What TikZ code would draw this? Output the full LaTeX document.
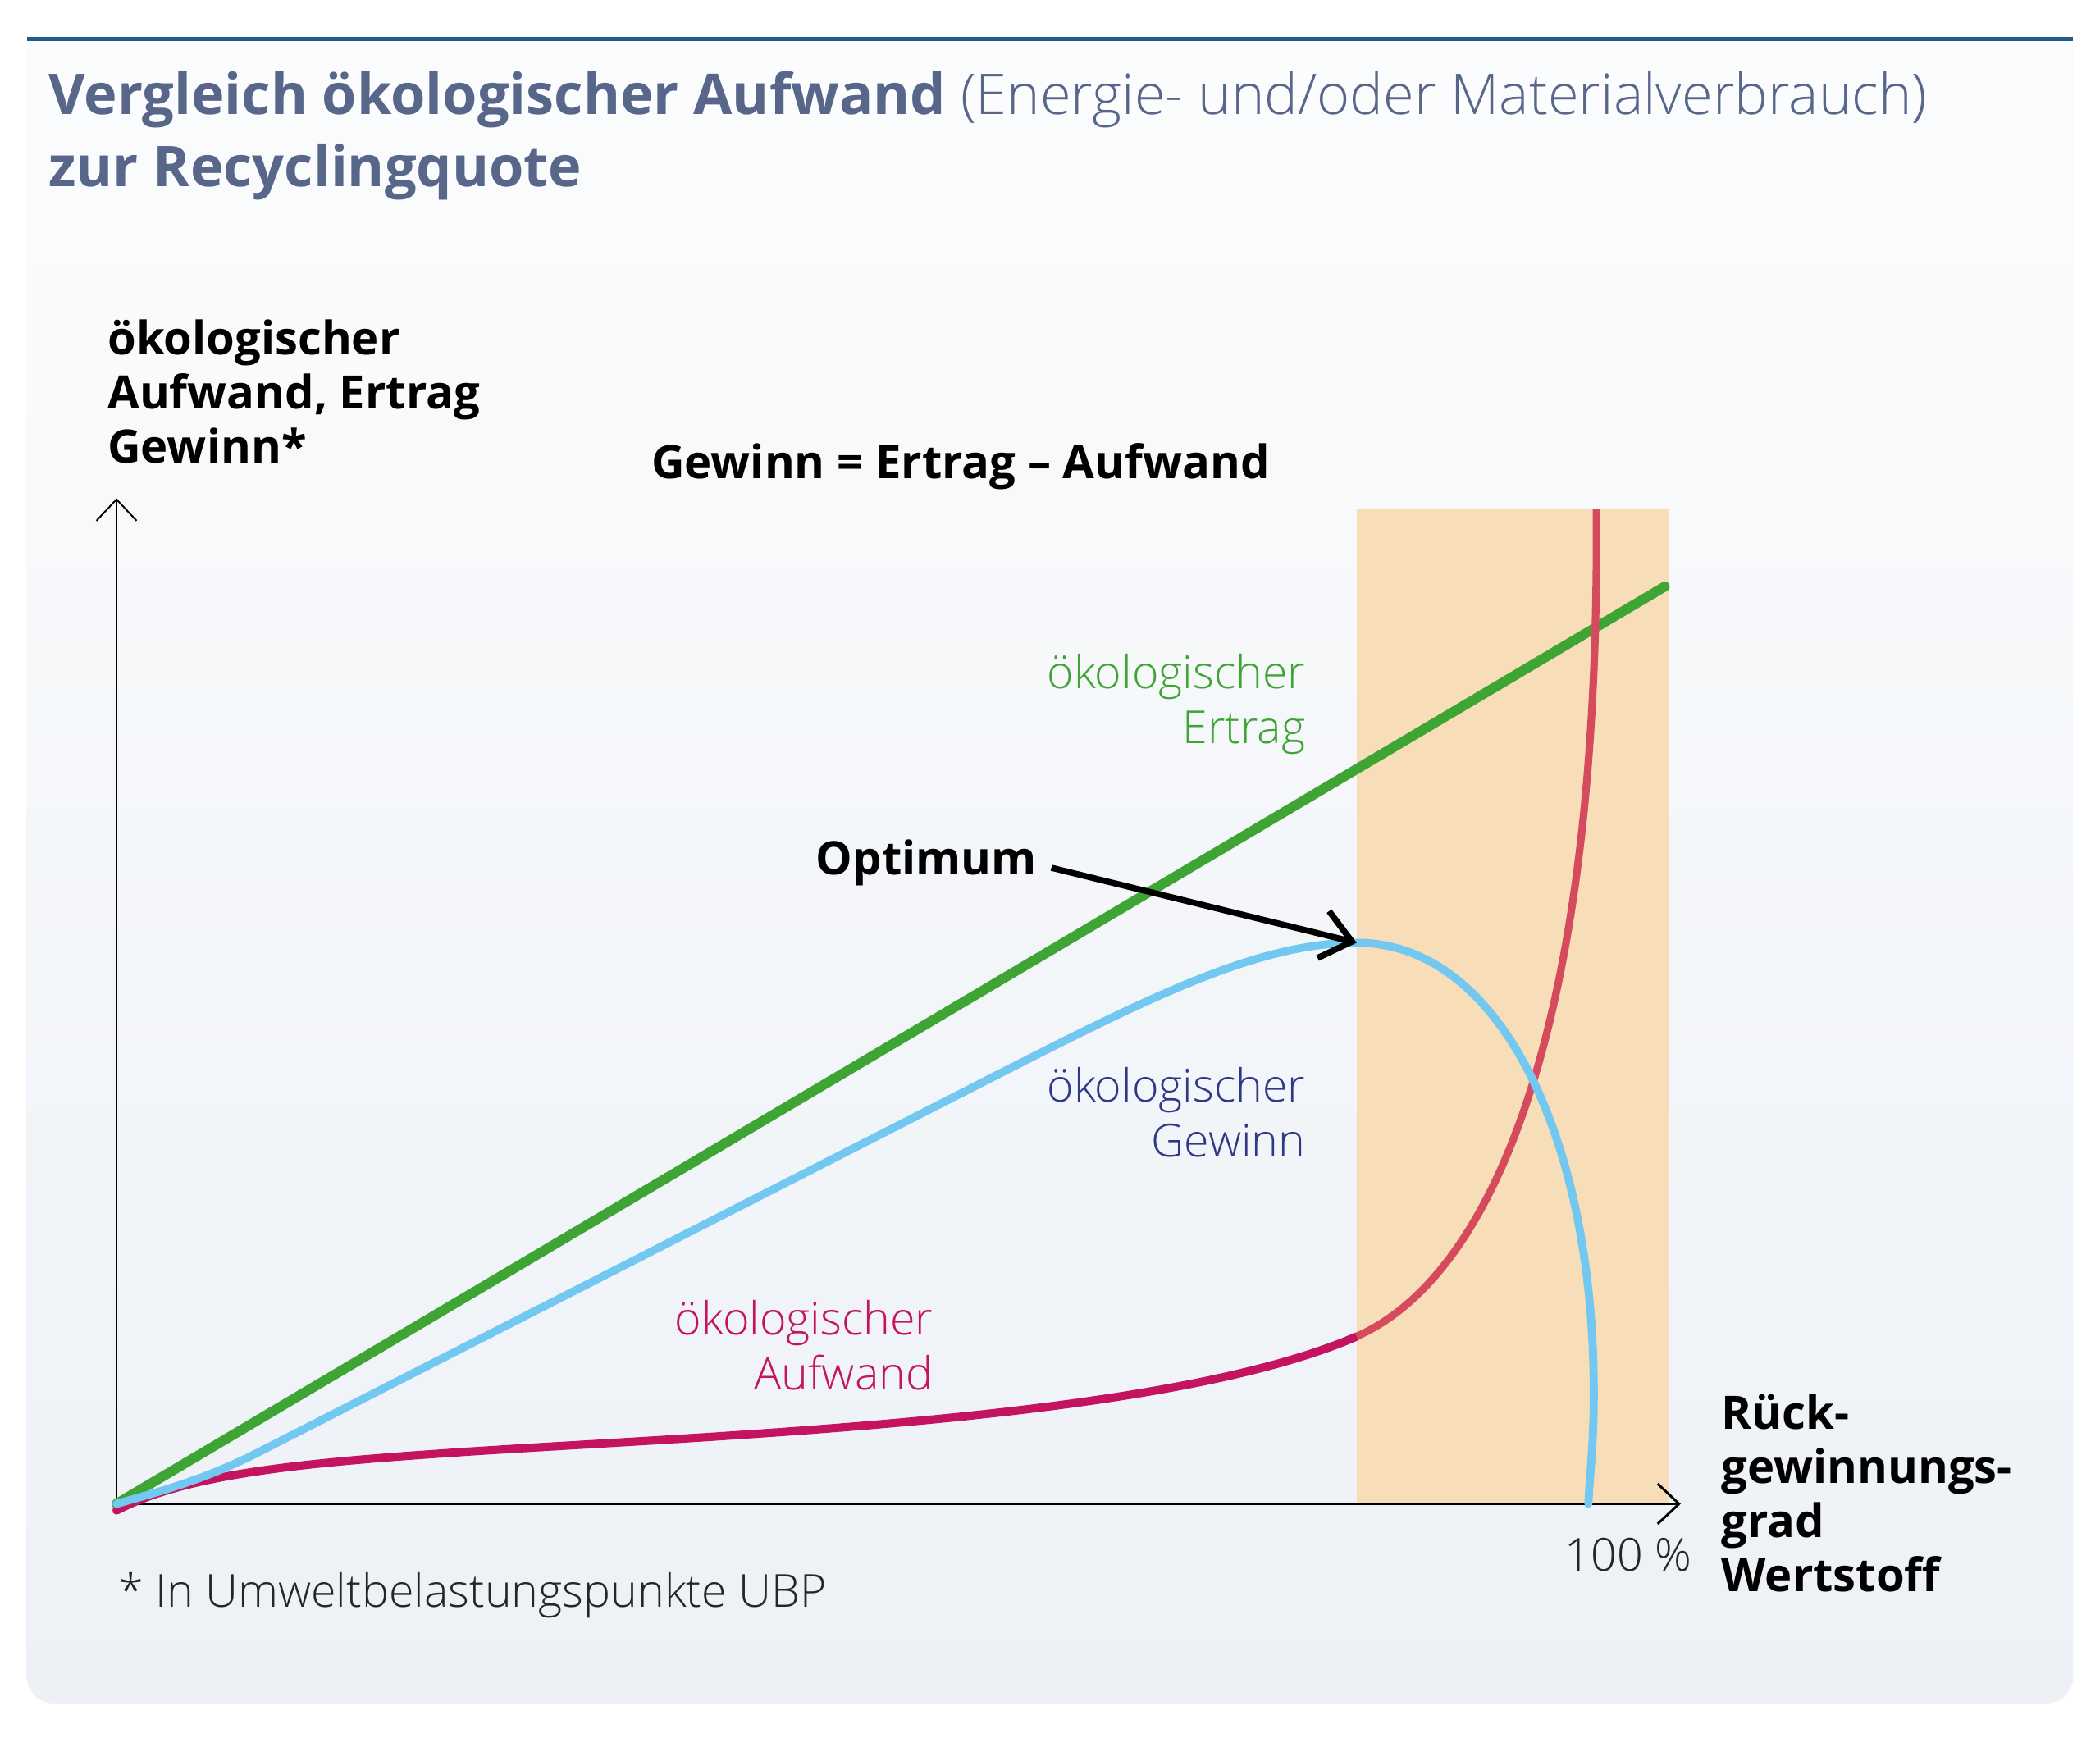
\documentclass[tikz,border=0pt]{standalone}
\usepackage{fontspec}
\setmainfont{Open Sans}
\IfFontExistsTF{Open Sans Light}{\newfontfamily\lightfont{Open Sans Light}}{\newfontfamily\lightfont{Open Sans}}
\usetikzlibrary{arrows.meta}
\definecolor{rulecol}{RGB}{31,92,142}
\definecolor{titlecol}{RGB}{88,102,138}
\definecolor{paneltop}{RGB}{251,252,253}
\definecolor{panelbot}{RGB}{237,241,246}
\definecolor{bandcol}{RGB}{247,222,184}
\definecolor{ertragcol}{RGB}{62,165,53}
\definecolor{gewinncol}{RGB}{114,200,240}
\definecolor{gewinntext}{RGB}{46,56,135}
\definecolor{aufwandcol}{RGB}{197,20,95}
\definecolor{aufwandhi}{RGB}{213,75,93}
\begin{document}
\begin{tikzpicture}[x=0.5pt,y=-0.5pt,
  titlefont/.style={font=\fontsize{21}{27}\selectfont, text=titlecol, inner sep=0pt},
  boldlabel/.style={font=\fontsize{17.2}{20.25}\selectfont\bfseries, text=black, inner sep=0pt, align=left},
  thinlabel/.style={font=\fontsize{17}{20.5}\selectfont\lightfont, inner sep=0pt},
  axisline/.style={line width=0.6pt, draw=black, -{Straight Barb[length=8pt,width=15pt]}},
  curve/.style={line cap=round, line join=round}]
\useasboundingbox (0,0) rectangle (1568,1297.3);
\fill[white] (0,0) rectangle (1568,1297.3);
% panel
\shade[top color=paneltop, bottom color=panelbot]
  (20,31) -- (1548,31) [rounded corners=10pt] -- (1548,1272) -- (20,1272) [sharp corners] -- (20,31) -- cycle;
\draw[rulecol, line width=1.5pt] (20,29) -- (1548,29);
% title
\node[titlefont, anchor=base west] (title1) at (36,85.5)
  {\textbf{Vergleich ökologischer Aufwand} {\lightfont (Energie- und/oder Materialverbrauch)}};
\node[titlefont, anchor=base west] (title2) at (36,139.4) {\textbf{zur Recyclingquote}};
% axis label (anchor base = last line)
\node[boldlabel, anchor=base west] (ylabel) at (80,345.7) {ökologischer\\Aufwand, Ertrag\\Gewinn*};
\node[boldlabel, anchor=base west] (formula) at (486,357.4) {Gewinn = Ertrag – Aufwand};
% band
\fill[bandcol] (1013,380) rectangle (1246,1123);
% axes
\coordinate (O) at (87,1123);
\coordinate (ytop) at (87,372);
\coordinate (xend) at (1255,1123);
\draw[axisline] (O) -- (ytop);
\draw[axisline, line width=0.9pt] (O) -- (xend);
% Ertrag
\coordinate (ertragend) at (1243,438);
\draw[curve, ertragcol, line width=3.7pt] (O) -- (ertragend);
% Aufwand
\coordinate (aufstart) at (87,1128);
\coordinate (aufmid) at (1013,998);
\coordinate (auftop) at (1192,380);
\draw[curve, aufwandcol, line width=3.1pt] (aufstart) .. controls (140,1100) and (230,1092) .. (350,1084)
  .. controls (550,1071) and (870,1060) .. (aufmid);
\draw[aufwandhi, line width=2.8pt] (aufmid) .. controls (1110,955) and (1195,780) .. (auftop);
% Gewinn
\coordinate (opt) at (1013,704);
\coordinate (gewend) at (1186,1123);
\draw[curve, gewinncol, line width=3pt] (O) .. controls (115,1115) and (150,1106) .. (190,1086)
  -- (740,805) .. controls (860,743.7) and (940,704) .. (opt)
  .. controls (1120,704) and (1190,850) .. (1190,1040)
  .. controls (1190,1080) and (1187,1100) .. (gewend);
% labels (anchor base = last line)
\node[thinlabel, text=ertragcol, anchor=base east, align=right] (lertrag) at (975,555) {ökologischer\\Ertrag};
\node[thinlabel, text=gewinntext, anchor=base east, align=right] (lgewinn) at (975,864) {ökologischer\\Gewinn};
\node[thinlabel, text=aufwandcol, anchor=base east, align=right] (laufwand) at (697,1038) {ökologischer\\Aufwand};
\node[boldlabel, anchor=base west] (optimum) at (609,653.4) {Optimum};
\coordinate (arrstart) at (785,648);
\draw[line width=2.3pt, -{Straight Barb[length=11pt,width=18pt]}] (arrstart) -- (opt);
\node[thinlabel, text=black!85, anchor=base west] (pct) at (1168,1173) {100 \%};
\node[boldlabel, anchor=base west] (xlabel) at (1285,1188.8) {Rück-\\gewinnungs-\\grad\\Wertstoff};
\node[thinlabel, text=black!85, anchor=base west] (foot) at (88,1200) {* In Umweltbelastungspunkte UBP};
\end{tikzpicture}
\end{document}
